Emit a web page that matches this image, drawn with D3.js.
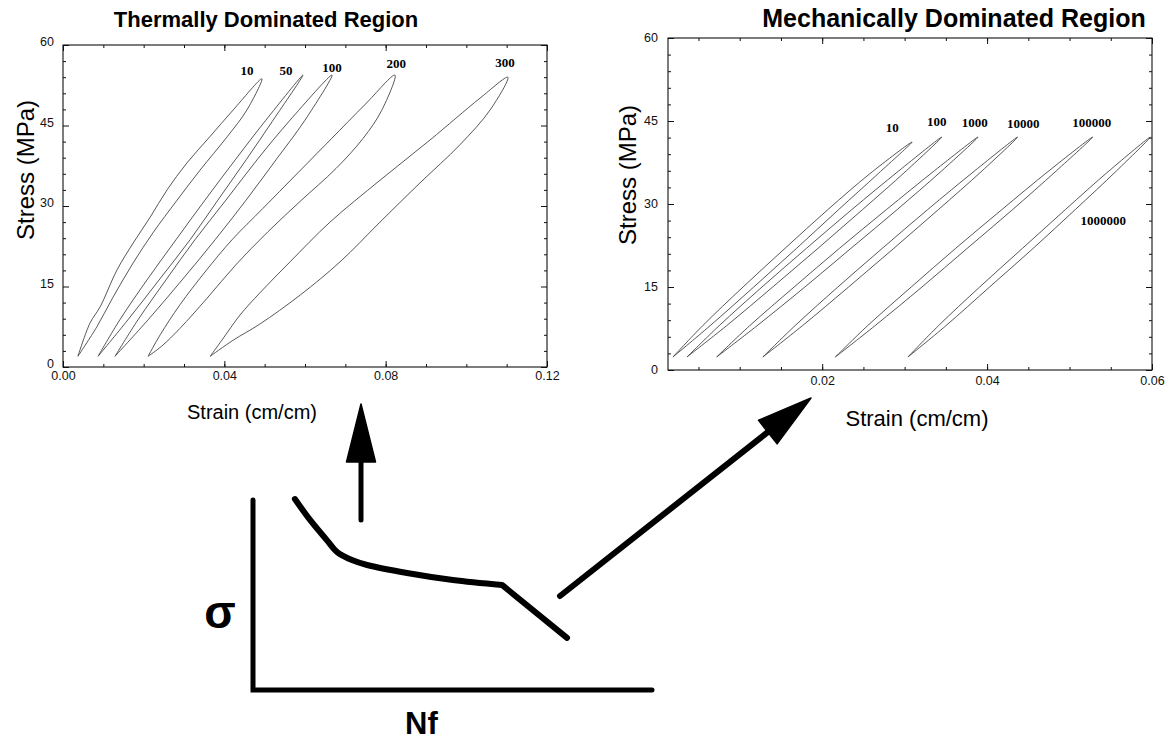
<!DOCTYPE html>
<html>
<head>
<meta charset="utf-8">
<script src="https://cdn.jsdelivr.net/npm/d3@7"></script>
<style>
  body { margin: 0; background: #fff; }
  svg { display: block; font-family: "Liberation Sans", Arial, sans-serif; }
</style>
</head>
<body>
<div id="chart"></div>
<script>
// ---- data ----
const thermalCycles = ["10", "50", "100", "200", "300"];
// loading (upper / left) branches, [strain, stress MPa]
const thermalLoading = [
  [[0.0037,2.0],[0.0067,8.2],[0.0092,11.2],[0.0134,18.1],[0.0174,23.1],[0.0216,27.9],[0.0258,33.0],[0.0307,38.0],[0.0364,42.9],[0.0422,47.9],[0.0493,53.7]],
  [[0.0087,2.0],[0.0141,8.8],[0.0208,16.2],[0.0280,23.7],[0.0352,31.1],[0.0427,38.6],[0.0503,46.0],[0.0595,54.4]],
  [[0.0129,2.0],[0.0186,8.8],[0.0255,16.2],[0.0327,23.7],[0.0404,31.1],[0.0481,38.6],[0.0563,46.0],[0.0667,54.4]],
  [[0.0211,2.0],[0.0241,6.0],[0.0290,11.6],[0.0352,17.7],[0.0419,23.7],[0.0495,29.5],[0.0580,36.0],[0.0665,42.5],[0.0750,49.0],[0.0823,54.4]],
  [[0.0365,2.0],[0.0394,5.0],[0.0439,9.7],[0.0488,13.8],[0.0563,19.6],[0.0662,27.0],[0.0786,34.8],[0.0910,42.3],[0.1034,50.1],[0.1103,54.0]]
];
// unloading (lower / right) branches
const thermalUnloading = [
  [[0.0037,2.0],[0.0084,7.5],[0.0124,13.0],[0.0174,19.4],[0.0223,25.0],[0.0283,31.1],[0.0340,36.7],[0.0407,42.9],[0.0456,47.9],[0.0493,53.7]],
  [[0.0087,2.0],[0.0161,8.8],[0.0238,16.2],[0.0315,23.7],[0.0384,31.1],[0.0454,38.6],[0.0521,46.0],[0.0595,54.4]],
  [[0.0129,2.0],[0.0211,8.8],[0.0295,16.2],[0.0377,23.7],[0.0454,31.1],[0.0528,38.6],[0.0600,46.0],[0.0667,54.4]],
  [[0.0211,2.0],[0.0245,3.9],[0.0290,7.2],[0.0357,12.8],[0.0428,19.0],[0.0508,25.2],[0.0590,31.0],[0.0677,37.0],[0.0744,42.6],[0.0790,47.8],[0.0823,54.4]],
  [[0.0365,2.0],[0.0422,5.0],[0.0488,8.0],[0.0588,13.4],[0.0687,19.6],[0.0786,27.0],[0.0885,34.3],[0.0984,41.4],[0.1059,47.9],[0.1103,54.0]]
];
const thermalLabelAt = [[0.0456,54.5],[0.0553,54.5],[0.0667,55.0],[0.0826,55.7],[0.1096,55.9]];

const mechCycles = ["10", "100", "1000", "10000", "100000", "1000000"];
const mechLoading = [
  [[0.0019,2.35],[0.0055,8],[0.0104,15],[0.0155,22],[0.0207,29],[0.0258,35.5],[0.0309,41.2]],
  [[0.0036,2.35],[0.0075,8],[0.0127,15],[0.0181,22],[0.0236,29],[0.0293,36],[0.0345,42.1]],
  [[0.0072,2.35],[0.0112,8],[0.0166,15],[0.0221,22],[0.0278,29],[0.0336,36],[0.0389,42.1]],
  [[0.0128,2.35],[0.0167,8],[0.0219,15],[0.0273,22],[0.0328,29],[0.0385,36],[0.0437,42.1]],
  [[0.0216,2.35],[0.0255,8],[0.0308,15],[0.0362,22],[0.0418,29],[0.0475,36],[0.0528,42.1]],
  [[0.0304,2.35],[0.0341,8],[0.0391,15],[0.0443,22],[0.0495,29],[0.0548,36],[0.0598,42.1]]
];
const mechUnloading = [
  [[0.0019,2.35],[0.0064,8],[0.0117,15],[0.0169,22],[0.0220,29],[0.0268,35.5],[0.0309,41.2]],
  [[0.0036,2.35],[0.0084,8],[0.0140,15],[0.0195,22],[0.0249,29],[0.0302,36],[0.0345,42.1]],
  [[0.0072,2.35],[0.0121,8],[0.0179,15],[0.0235,22],[0.0291,29],[0.0345,36],[0.0389,42.1]],
  [[0.0128,2.35],[0.0176,8],[0.0232,15],[0.0287,22],[0.0341,29],[0.0394,36],[0.0437,42.1]],
  [[0.0216,2.35],[0.0264,8],[0.0321,15],[0.0376,22],[0.0431,29],[0.0484,36],[0.0528,42.1]],
  [[0.0304,2.35],[0.0350,8],[0.0403,15],[0.0456,22],[0.0507,29],[0.0557,36],[0.0598,42.1]]
];
const mechLabelAt = [[0.0285,43.0],[0.0339,44.1],[0.0385,43.9],[0.0444,43.7],[0.0527,43.9],[0.0541,26.2]];

const stressTicks = [0, 15, 30, 45, 60];
const thermalStrainTicks = [0, 0.04, 0.08, 0.12];
const mechStrainTicks = [0.02, 0.04, 0.06];

// schematic S-N curve (arbitrary units, Nf 0-100, sigma 0-100)
const sketchCurve = [[10.5,100.5],[14.3,89.5],[18.5,78.9],[21.1,72.6],[24.8,68.4],[28.6,65.8],[38.6,61.6],[50.1,57.9],[62.4,55.3],[78.7,27.4]];

// ---- drawing ----
const width = 1167;
const height = 740;

const svg = d3.select("#chart")
  .append("svg")
  .attr("width", width)
  .attr("height", height);

const loopLine = d3.line().curve(d3.curveCatmullRom.alpha(0.5));

function drawPanel(p) {
  const x = d3.scaleLinear().domain(p.xDomain).range([p.left, p.right]);
  const y = d3.scaleLinear().domain([0, 60]).range([p.bottom, p.top]);
  const g = svg.append("g");

  // frame
  g.append("rect")
    .attr("x", p.left).attr("y", p.top)
    .attr("width", p.right - p.left).attr("height", p.bottom - p.top)
    .attr("fill", "none").attr("stroke", "#111").attr("stroke-width", 1.1);

  const axisStyle = sel => {
    sel.select(".domain").remove();
    sel.selectAll("line").attr("stroke", "#111");
    sel.selectAll("text").attr("font-size", 12.5).attr("fill", "#111")
      .attr("font-family", "Liberation Sans, Arial, sans-serif");
  };

  // major ticks with labels
  g.append("g").attr("transform", `translate(0,${p.bottom})`)
    .call(d3.axisBottom(x).tickValues(p.xTicks).tickFormat(d3.format(".2f")).tickSize(-6).tickPadding(p.xPad))
    .call(axisStyle);
  g.append("g").attr("transform", `translate(${p.left},0)`)
    .call(d3.axisLeft(y).tickValues(stressTicks).tickSize(-6).tickPadding(p.yPad))
    .call(axisStyle)
    .call(sel => sel.selectAll("text").attr("dy", p.yDy));
  // ticks on the opposite sides
  g.append("g").attr("transform", `translate(0,${p.top})`)
    .call(d3.axisTop(x).tickValues(p.xTicks).tickFormat("").tickSize(-6))
    .call(axisStyle);
  g.append("g").attr("transform", `translate(${p.right},0)`)
    .call(d3.axisRight(y).tickValues(stressTicks).tickFormat("").tickSize(-6))
    .call(axisStyle);

  // minor ticks
  const xMinor = d3.range(p.xMinorStep, p.xDomain[1] + 1e-9, p.xMinorStep)
    .filter(v => v > p.xDomain[0]);
  const yMinor = d3.range(3, 60, 3).filter(v => v % 15 !== 0);
  [[p.bottom, d3.axisBottom], [p.top, d3.axisTop]].forEach(([pos, ax]) => {
    g.append("g").attr("transform", `translate(0,${pos})`)
      .call(ax(x).tickValues(xMinor).tickFormat("").tickSize(-3))
      .call(axisStyle);
  });
  [[p.left, d3.axisLeft], [p.right, d3.axisRight]].forEach(([pos, ax]) => {
    g.append("g").attr("transform", `translate(${pos},0)`)
      .call(ax(y).tickValues(yMinor).tickFormat("").tickSize(-3))
      .call(axisStyle);
  });

  // hysteresis loops
  p.loading.forEach((up, i) => {
    const down = p.unloading[i].slice().reverse().slice(1);
    const pts = up.concat(down).map(d => [x(d[0]), y(d[1])]);
    g.append("path")
      .attr("d", loopLine(pts))
      .attr("fill", "none")
      .attr("stroke", "#444")
      .attr("stroke-width", 0.9);
  });

  // cycle labels
  g.selectAll(".cyc")
    .data(p.cycles)
    .enter()
    .append("text")
    .attr("x", (d, i) => x(p.labelAt[i][0]))
    .attr("y", (d, i) => y(p.labelAt[i][1]))
    .attr("text-anchor", "middle")
    .attr("font-family", "Liberation Serif, Times New Roman, serif")
    .attr("font-weight", "bold")
    .attr("font-size", 13)
    .text(d => d);

  // axis titles
  svg.append("text")
    .attr("transform", `translate(${p.yLabelX},${p.yLabelY}) rotate(-90)`)
    .attr("text-anchor", "middle")
    .attr("dominant-baseline", "central")
    .attr("font-size", 24)
    .text("Stress (MPa)");
  svg.append("text")
    .attr("x", p.xLabelX).attr("y", p.xLabelY)
    .attr("text-anchor", "middle")
    .attr("font-size", p.xLabelSize)
    .text("Strain (cm/cm)");
  svg.append("text")
    .attr("x", p.titleX).attr("y", 27)
    .attr("text-anchor", "middle")
    .attr("font-size", p.titleSize)
    .attr("font-weight", "bold")
    .text(p.title);
}

drawPanel({
  title: "Thermally Dominated Region", titleX: 266, titleSize: 22,
  left: 63, right: 547, top: 45, bottom: 367,
  xDomain: [0, 0.12], xTicks: thermalStrainTicks, xMinorStep: 0.01,
  xPad: 4, yPad: 9, yDy: "0.05em",
  loading: thermalLoading, unloading: thermalUnloading,
  cycles: thermalCycles, labelAt: thermalLabelAt,
  yLabelX: 25, yLabelY: 170, xLabelX: 252, xLabelY: 419, xLabelSize: 20
});

drawPanel({
  title: "Mechanically Dominated Region", titleX: 954, titleSize: 25,
  left: 668, right: 1152, top: 38, bottom: 370,
  xDomain: [0.0013, 0.06], xTicks: mechStrainTicks, xMinorStep: 0.005,
  xPad: 6, yPad: 10, yDy: "0.25em",
  loading: mechLoading, unloading: mechUnloading,
  cycles: mechCycles, labelAt: mechLabelAt,
  yLabelX: 627, yLabelY: 175, xLabelX: 917, xLabelY: 426, xLabelSize: 22
});

// ---- schematic S-N sketch ----
const sx = d3.scaleLinear().domain([0, 100]).range([253, 652]);
const sy = d3.scaleLinear().domain([0, 100]).range([690, 500]);

svg.append("path")
  .attr("d", d3.line()([[sx(0), sy(100)], [sx(0), sy(0)], [sx(100), sy(0)]]))
  .attr("fill", "none").attr("stroke", "#000").attr("stroke-width", 5)
  .attr("stroke-linecap", "round").attr("stroke-linejoin", "miter");

const last = sketchCurve[sketchCurve.length - 1];
svg.append("path")
  .attr("d", d3.line().curve(d3.curveCatmullRom)(sketchCurve.slice(0, -1).map(d => [sx(d[0]), sy(d[1])]))
    + "L" + sx(last[0]) + "," + sy(last[1]))
  .attr("fill", "none").attr("stroke", "#000").attr("stroke-width", 6)
  .attr("stroke-linecap", "round").attr("stroke-linejoin", "round");

svg.append("text")
  .attr("x", 220).attr("y", 628)
  .attr("text-anchor", "middle")
  .attr("font-size", 46).attr("font-weight", "bold")
  .text("σ");

svg.append("text")
  .attr("x", 405).attr("y", 734)
  .attr("font-size", 31).attr("font-weight", "bold")
  .text("Nf");

function arrow(x0, y0, x1, y1, w, headLen, headW) {
  const len = Math.hypot(x1 - x0, y1 - y0);
  const ux = (x1 - x0) / len, uy = (y1 - y0) / len;
  const bx = x1 - ux * headLen, by = y1 - uy * headLen;
  svg.append("line")
    .attr("x1", x0).attr("y1", y0).attr("x2", bx + ux * 4).attr("y2", by + uy * 4)
    .attr("stroke", "#000").attr("stroke-width", w).attr("stroke-linecap", "round");
  svg.append("path")
    .attr("d", d3.line()([[x1, y1], [bx - uy * headW / 2, by + ux * headW / 2], [bx + uy * headW / 2, by - ux * headW / 2]]) + "Z")
    .attr("fill", "#000").attr("stroke", "#000").attr("stroke-width", 1.5).attr("stroke-linejoin", "round");
}

arrow(361, 520, 361, 404, 5, 58, 29);
arrow(560, 596, 811, 398, 6, 55, 30);
</script>
</body>
</html>
